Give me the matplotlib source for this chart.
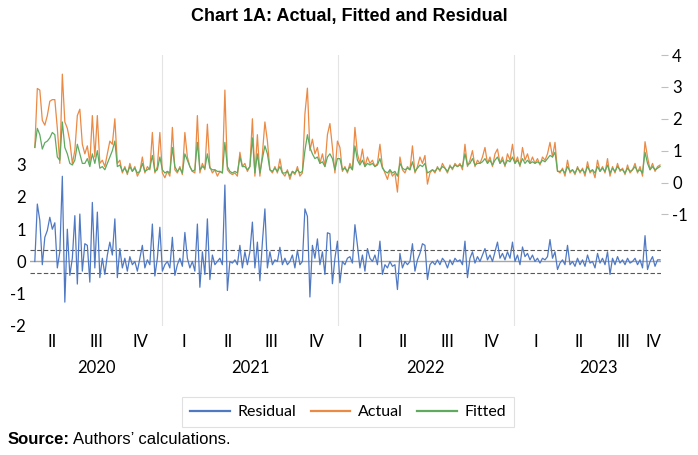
import numpy as np
import pandas as pd
import matplotlib
matplotlib.use("Agg")
import matplotlib.pyplot as plt
import matplotlib.transforms as mtransforms
from matplotlib.lines import Line2D

actual = [
    1.1, 2.95, 2.9, 1.95, 1.8, 2.1, 2.55, 2.6, 2.6, 1.7,
    0.6, 3.4, 1.9, 1.7, 1.3, 0.6, 1.0, 2.1, 2.3, 1.2,
    0.9, 1.15, 0.6, 2.1, 0.8, 2.1, 0.6, 0.7, 0.5, 0.9,
    1.3, 1.2, 2.0, 0.6, 0.7, 0.3, 0.5, 0.25, 0.6, 0.35,
    0.5, 0.2, 0.35, 0.8, 0.3, 0.5, 0.4, 1.57, 0.3, 0.5,
    1.57, 0.3, 0.15, 0.35, 0.2, 1.73, 0.4, 0.3, 0.5, 0.25,
    1.57, 0.8, 0.5, 0.35, 0.3, 2.1, 0.3, 0.6, 0.4, 1.83,
    0.5, 0.3, 0.4, 0.2, 0.35, 0.3, 2.9, 0.4, 0.3, 0.25,
    0.3, 0.2, 0.95, 0.5, 0.6, 0.35, 0.5, 2.0, 0.2, 1.5,
    0.2, 0.9, 1.9, 1.3, 0.4, 0.3, 0.5, 0.3, 0.74, 0.3,
    0.2, 0.4, 0.1, 0.35, 0.25, 0.5, 0.2, 0.3, 2.15, 2.96,
    1.0, 1.36, 0.9, 1.1, 0.6, 0.9, 0.5, 1.5, 1.85, 1.1,
    0.3, 1.3, 1.1, 0.35, 0.5, 0.3, 0.6, 0.4, 1.73, 0.9,
    0.6, 1.05, 0.5, 0.8, 0.6, 0.7, 0.5, 0.6, 1.2, 0.5,
    0.3, 0.1, 0.4, 0.2, 0.3, -0.3, 0.8, 0.4, 0.3, 0.5,
    0.4, 1.15, 0.3, 0.5, 0.8, 0.6, 0.85, -0.05, 0.3, 0.4,
    0.3, 0.5, 0.35, 0.6, 0.45, 0.3, 0.55, 0.4, 0.6, 0.5,
    0.6, 0.4, 1.2, 0.5, 0.7, 1.0, 0.5, 0.7, 0.6, 0.8,
    1.1, 0.6, 0.8, 0.5, 0.9, 1.05, 0.6, 0.8, 0.5, 0.9,
    0.7, 1.2, 0.6, 0.8, 0.5, 1.1, 0.7, 0.9, 0.6, 0.8,
    0.6, 0.75, 0.55, 0.8, 0.7, 0.9, 1.26, 0.8, 1.26, 0.37,
    0.3, 0.45, 0.2, 0.7, 0.3, 0.4, 0.25, 0.5, 0.3, 0.45,
    0.2, 0.65, 0.3, 0.4, 0.15, 0.7, 0.35, 0.5, 0.3, 0.75,
    0.2, 0.5, 0.3, 0.6, 0.35, 0.45, 0.25, 0.55, 0.3, 0.4,
    0.6, 0.3, 0.5, 0.2, 1.28, 0.8, 0.4, 0.6, 0.35, 0.5, 0.55,
]
fitted = [
    1.1, 1.7, 1.5, 1.05, 1.25, 1.3, 1.4, 1.57, 1.5, 0.8,
    0.7, 1.9, 1.1, 0.9, 0.6, 0.55, 0.7, 1.2, 0.9, 0.6,
    0.6, 0.75, 0.5, 0.9, 0.6, 1.0, 0.45, 0.5, 0.4, 0.6,
    0.8, 1.0, 1.3, 0.5, 0.55, 0.35, 0.45, 0.3, 0.5, 0.35,
    0.45, 0.3, 0.35, 0.6, 0.35, 0.4, 0.45, 0.85, 0.35, 0.4,
    0.8, 0.4, 0.3, 0.35, 0.3, 1.1, 0.5, 0.35, 0.45, 0.3,
    0.9, 0.7, 0.5, 0.35, 0.4, 1.26, 0.4, 0.5, 0.45, 0.9,
    0.45, 0.4, 0.4, 0.35, 0.35, 0.3, 1.26, 0.5, 0.35, 0.3,
    0.35, 0.3, 0.8, 0.5, 0.5, 0.4, 0.5, 1.4, 0.3, 0.9,
    0.3, 0.75, 1.15, 0.9, 0.4, 0.35, 0.45, 0.35, 0.5, 0.3,
    0.3, 0.35, 0.2, 0.35, 0.3, 0.4, 0.3, 0.35, 1.0, 1.5,
    1.1, 0.9, 0.75, 0.8, 0.6, 0.65, 0.5, 0.8, 0.9, 0.75,
    0.4, 0.75, 0.75, 0.4, 0.45, 0.35, 0.5, 0.4, 1.15, 0.7,
    0.55, 0.7, 0.5, 0.6, 0.55, 0.6, 0.5, 0.55, 0.75, 0.45,
    0.35, 0.3, 0.4, 0.3, 0.35, 0.2, 0.6, 0.45, 0.4, 0.45,
    0.4, 0.65, 0.35, 0.45, 0.55, 0.5, 0.6, 0.3, 0.35, 0.4,
    0.35, 0.45, 0.4, 0.5, 0.45, 0.35, 0.5, 0.45, 0.55, 0.5,
    0.55, 0.5, 0.9, 0.55, 0.6, 0.75, 0.55, 0.6, 0.6, 0.65,
    0.75, 0.6, 0.7, 0.55, 0.7, 0.8, 0.6, 0.7, 0.55, 0.7,
    0.65, 0.8, 0.6, 0.7, 0.55, 0.75, 0.6, 0.7, 0.6, 0.65,
    0.6, 0.65, 0.6, 0.7, 0.65, 0.75, 0.85, 0.8, 0.95, 0.35,
    0.35, 0.4, 0.3, 0.5, 0.35, 0.4, 0.3, 0.45, 0.35, 0.4,
    0.3, 0.5, 0.35, 0.4, 0.3, 0.5, 0.35, 0.45, 0.35, 0.55,
    0.3, 0.45, 0.35, 0.5, 0.4, 0.4, 0.3, 0.45, 0.35, 0.4,
    0.5, 0.35, 0.4, 0.3, 0.95, 0.6, 0.4, 0.5, 0.4, 0.45, 0.5,
]
residual = [
    0.0, 1.78, 1.27, -0.1, 0.75, 0.96, 1.37, 1.0, 1.2, -0.2,
    0.3, 2.64, -1.26, 1.0, -0.43, 0.1, 1.42, -0.7, 1.47, -0.3,
    0.55, 0.5, -0.64, 1.83, -0.2, 1.53, -0.5, 0.1, -0.4, 0.2,
    0.6, 0.2, 1.32, -0.5, 0.4, -0.2, 0.1, -0.3, 0.15, -0.1,
    0.0, -0.3, 0.1, 0.5, -0.2, 0.05, -0.1, 1.16, -0.45, 0.1,
    1.06, -0.3, -0.1, 0.0, -0.2, 0.75, -0.43, -0.1, 0.1, -0.15,
    0.9, 0.1, -0.2, 0.0, -0.3, 1.16, -0.8, 0.3, -0.4, 1.32,
    -0.56, 0.2, -0.1, 0.0, 0.1, -0.1, 2.37, -0.9, 0.0, -0.05,
    0.05, -0.1, 0.5, -0.2, 0.3, -0.1, 0.3, 1.22, -0.2, 0.6,
    -0.6, 0.6, 1.63, -0.2, 0.3, -0.1, 0.05, 0.0, 0.44, -0.1,
    0.1, -0.1, 0.0, 0.2, -0.2, 0.35, -0.1, 0.0, 1.63, 1.4,
    -1.1, 0.5, 0.1, 0.7, -0.1, 0.3, -0.4, 0.89, 0.86, -0.69,
    0.1, 0.63, -0.66, 0.0, -0.1, 0.1, 0.15, -0.05, 1.14, 0.5,
    -0.2, 0.2, -0.3, 0.4, 0.1, 0.0, 0.2, -0.1, 0.63, -0.4,
    -0.1, -0.2, 0.0, -0.15, -0.1, -0.87, 0.25, -0.2, 0.0, -0.1,
    0.0, 0.55, -0.3, 0.05, 0.25, 0.55, 0.5, -0.56, -0.1, 0.0,
    -0.1, 0.05, -0.1, 0.1, 0.0, -0.2, 0.05, -0.1, 0.1, 0.0,
    0.05, -0.1, 0.63, -0.5, 0.1, 0.3, -0.05, 0.15, 0.0, 0.2,
    0.4, 0.05, 0.2, 0.0, 0.3, 0.6, 0.1, 0.25, 0.05, 0.3,
    0.1, 0.6, 0.0, 0.2, -0.1, 0.45, 0.15, 0.25, 0.05, 0.2,
    0.0, 0.1, -0.05, 0.1, 0.05, 0.15, 0.68, 0.1, 0.3, -0.25,
    -0.05, 0.05, -0.1, 0.5, -0.1, 0.0, -0.15, 0.1, -0.1, 0.05,
    -0.15, 0.2, -0.05, 0.0, -0.2, 0.25, -0.05, 0.1, -0.1, 0.3,
    -0.4, 0.1, -0.1, 0.15, -0.05, 0.05, -0.1, 0.1, -0.05, 0.0,
    0.1, -0.1, 0.05, -0.2, 0.8, -0.25, 0.0, 0.15, -0.15, 0.05, 0.05,
]
se_band = 0.37  # dashed +/- band around the residual

quarter_labels = ["II", "III", "IV",
                  "I", "II", "III", "IV",
                  "I", "II", "III", "IV",
                  "I", "II", "III", "IV"]
year_labels = ["2020", "2021", "2022", "2023"]
left_ticks = [-2, -1, 0, 1, 2, 3]
right_ticks = [-1, 0, 1, 2, 3, 4]

# x range of the plot
x_start, x_end = pd.Timestamp("2020-04-01"), pd.Timestamp("2023-11-02")
dates = pd.date_range("2020-04-11", "2023-10-31", periods=len(actual))

c_res, c_act, c_fit = "#5079C4", "#EA8A45", "#5FAA5F"
tick_font = ["Lato", "DejaVu Sans"]

W, H = 698, 455
fig = plt.figure(figsize=(W / 100, H / 100), dpi=100)
ax = fig.add_axes([30 / W, (H - 326) / H, (661 - 30) / W, (326 - 55) / H])
ax2 = ax.twinx()

# Residual on left axis
ax.plot(dates, residual, color=c_res, lw=0.9, zorder=3)
ax.axhline(0, color="#A6A6A6", lw=1.0, zorder=2)
for lvl in (se_band, -se_band):
    ax.axhline(lvl, color="#595959", lw=0.8, ls=(0, (4, 2)), zorder=2)
ax.set_ylim(-2, 6.4)
ax.set_yticks(left_ticks)
ax.set_yticklabels([str(t) for t in left_ticks], family=tick_font, fontsize=12)
ax.tick_params(axis="y", length=0, pad=3)

# Year separators
for yr in year_labels[1:]:
    ax.axvline(pd.Timestamp(f"{yr}-01-01"), color="#E4E4E4", lw=0.8, zorder=1)

# Actual / fitted on right axis
ax2.plot(dates, actual, color=c_act, lw=0.9)
ax2.plot(dates, fitted, color=c_fit, lw=0.9)
ax2.set_ylim(-4.5, 3.97)
ax2.set_yticks(right_ticks)
ax2.set_yticklabels([str(t) for t in right_ticks], family=tick_font, fontsize=12)
ax2.tick_params(axis="y", length=5, width=0.8, color="#BFBFBF", pad=3)

ax.set_xlim(x_start, x_end)
ax.set_xticks([])
for a in (ax, ax2):
    for s in a.spines.values():
        s.set_visible(False)

# Quarter and year labels under the plot
trans = mtransforms.blended_transform_factory(ax.transData, fig.transFigure)
q_starts = pd.date_range("2020-04-01", periods=len(quarter_labels), freq="QS")
q_pos = []
for qs in q_starts:
    qe = min(qs + pd.offsets.QuarterBegin(startingMonth=1), x_end)
    q_pos.append(matplotlib.dates.date2num(qs) / 2 + matplotlib.dates.date2num(qe) / 2)
for lab, xp in zip(quarter_labels, q_pos):
    ax.text(xp, 1 - 342 / H, lab, transform=trans, ha="center", va="center",
            family=tick_font, fontsize=12)
q_years = [d.year for d in q_starts]
for yl in year_labels:
    xs = [xp for xp, y in zip(q_pos, q_years) if str(y) == yl]
    ax.text(np.mean(xs), 1 - 368 / H, yl, transform=trans, ha="center",
            va="center", family=tick_font, fontsize=12)

# Legend
handles = [Line2D([], [], color=c, lw=1.6) for c in (c_res, c_act, c_fit)]
leg = fig.legend(handles, ["Residual", "Actual", "Fitted"], loc="center",
                 bbox_to_anchor=(348 / W, 1 - 412 / H), ncol=3, frameon=True,
                 prop={"family": tick_font, "size": 11.5}, handlelength=2.5,
                 columnspacing=0.9, handletextpad=0.45, fancybox=False,
                 borderpad=0.5)
leg.get_frame().set_edgecolor("#D9D9D9")
leg.get_frame().set_linewidth(0.8)

# Title and source
fig.text(349 / W, 1 - 17 / H, "Chart 1A: Actual, Fitted and Residual",
         ha="center", va="center", fontsize=13, fontweight="bold",
         family="Liberation Sans")
src = fig.text(8 / W, 1 - 440 / H, "Source:", ha="left", va="center",
               fontsize=12, fontweight="bold", family="Liberation Sans")
fig.canvas.draw()
bb = src.get_window_extent()
fig.text((bb.x1 + 3) / W, 1 - 440 / H, "Authors\u2019 calculations.",
         ha="left", va="center", fontsize=12, family="Liberation Sans")

fig.savefig("out.png", dpi=100)
